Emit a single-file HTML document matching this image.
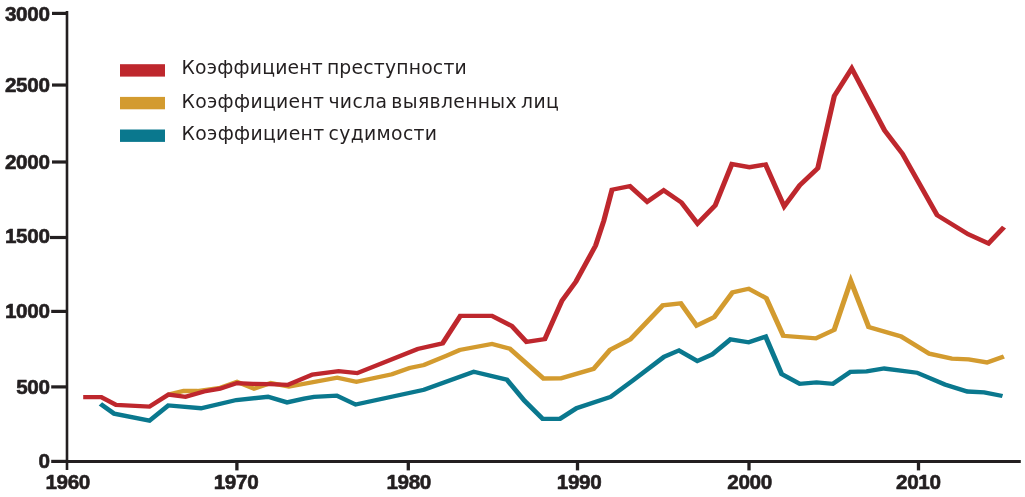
<!DOCTYPE html>
<html lang="ru"><head><meta charset="utf-8"><title>Коэффициенты</title>
<style>
html,body{margin:0;padding:0;background:#fff;}
body{width:1025px;height:497px;overflow:hidden;position:relative;}
svg{position:absolute;left:0;top:0;display:block;}
.ax{font-family:"Liberation Sans",sans-serif;font-weight:bold;font-size:20.7px;letter-spacing:-0.35px;fill:#231f20;stroke:#231f20;stroke-width:0.6px;stroke-linejoin:round;}
.lg{font-family:"DejaVu Sans","Liberation Sans",sans-serif;font-size:18.8px;fill:#231f20;letter-spacing:0.28px;word-spacing:-2.2px;}
</style></head><body>
<svg width="1025" height="497" viewBox="0 0 1025 497">
<rect width="1025" height="497" fill="#fff"/>
<g transform="scale(1.2,1)" fill="none" stroke-width="4.3" stroke-linejoin="miter" stroke-miterlimit="10" stroke-linecap="butt">
<polyline stroke="#0a788e" points="83.67,403.8 95.17,413.7 124.50,420.7 140.25,405.4 167.50,408.2 196.92,400 223.33,396.8 239.17,402.4 253.33,398.6 261.67,396.8 280.67,395.6 296.33,404.5 353.33,389.8 394.75,371.8 422.33,379.6 437.00,400.7 452.25,418.8 466.67,418.8 480.42,408.2 508.67,397 527.92,380 553.33,356.9 565.83,350.4 581.08,361.1 593.42,354.5 608.67,339.4 623.92,342.3 638.00,336.6 651.42,374.1 666.42,383.8 680.50,382.4 694.00,383.8 708.67,371.8 722.17,371.4 736.83,368.5 764.17,372.7 787.33,384.5 806.08,391.5 820.17,392.3 835.42,396"/>
<polyline stroke="#d39b2f" points="140.42,394.6 153.00,391 164.58,391 183.67,387.8 197.50,381.9 211.67,388.7 225.67,383.1 240.83,386.6 281.00,377.6 297.00,381.8 326.67,374.3 341.25,368 353.33,365 372.25,355.6 383.00,350 410.00,344 424.83,348.6 452.92,378.5 467.50,378.4 494.58,368.9 508.33,349.9 525.25,339.3 552.33,305.3 567.33,303.4 580.50,325.6 595.17,317.2 610.42,292.3 623.92,288.7 638.58,298.2 652.75,335.8 679.92,338.3 695.17,329.9 709.00,281 723.92,327 750.92,336.4 774.42,353.7 793.17,358.6 807.25,359.3 822.50,362.4 836.58,356.5"/>
<polyline stroke="#be272d" points="69.33,397.2 84.42,397.2 96.67,404.8 124.50,406.6 140.42,394.6 154.58,396.9 170.00,391.5 183.33,388.7 197.50,383.1 211.00,383.8 225.00,384.2 239.75,384.9 260.33,374.6 282.17,371.2 297.67,373.1 348.00,349 368.83,343.3 383.58,315.9 410.00,315.9 426.42,326 438.75,341.8 454.00,339.2 468.33,300.6 480.00,281.5 496.33,245.6 503.17,220.7 510.00,189.7 524.92,186.2 539.33,201.7 553.08,190.4 567.75,202.4 581.25,223.5 596.00,205.4 609.92,164.1 624.50,167.2 637.92,164.5 653.50,206.4 666.42,185.3 681.50,168.2 695.25,96 709.79,68.5 737.17,130.4 752.00,153.7 780.92,215.2 806.75,234.2 823.75,243.4 836.67,227.2"/>
</g>
<g stroke="#231f20" fill="none">
<line x1="67" y1="11" x2="67" y2="470" stroke-width="2.6"/>
<line x1="65.5" y1="461.4" x2="1020.8" y2="461.4" stroke-width="3"/>
<line x1="52" y1="13.4" x2="66.8" y2="13.4" stroke-width="3.2"/>
<line x1="52" y1="85.05" x2="66.8" y2="85.05" stroke-width="3.2"/>
<line x1="52" y1="162" x2="66.8" y2="162" stroke-width="3.2"/>
<line x1="50" y1="237.5" x2="66.8" y2="237.5" stroke-width="3.2"/>
<line x1="51.2" y1="311.4" x2="66.8" y2="311.4" stroke-width="3.2"/>
<line x1="51.2" y1="386.9" x2="66.8" y2="386.9" stroke-width="3.2"/>
<line x1="51.2" y1="461.4" x2="66.8" y2="461.4" stroke-width="3.2"/>
<line x1="236.9" y1="461" x2="236.9" y2="470.4" stroke-width="3.3"/>
<line x1="408.3" y1="461" x2="408.3" y2="470.4" stroke-width="3.3"/>
<line x1="577.5" y1="461" x2="577.5" y2="470.4" stroke-width="3.3"/>
<line x1="749" y1="461" x2="749" y2="470.4" stroke-width="3.3"/>
<line x1="918.5" y1="461" x2="918.5" y2="470.4" stroke-width="3.3"/>
</g>
<g class="ax" text-anchor="end">
<text x="49.6" y="21.1">3000</text>
<text x="49.6" y="92.4">2500</text>
<text x="49.6" y="169.1">2000</text>
<text x="49.6" y="243.4">1500</text>
<text x="49.6" y="318.2">1000</text>
<text x="49.6" y="394.2">500</text>
<text x="49.6" y="468.2">0</text>
</g><g class="ax" text-anchor="middle">
<text x="67.7" y="489.2">1960</text>
<text x="236.0" y="489.2">1970</text>
<text x="408.7" y="489.2">1980</text>
<text x="579.1" y="489.2">1990</text>
<text x="749.6" y="489.2">2000</text>
<text x="918.3" y="489.2">2010</text>
</g>
<rect x="120" y="64.2" width="45" height="12.4" fill="#be272d"/>
<rect x="120" y="96.9" width="45" height="12.4" fill="#d39b2f"/>
<rect x="120" y="129.5" width="45" height="12.4" fill="#0a788e"/>
<g class="lg">
<text x="181.5" y="74.3" style="letter-spacing:0.2px">Коэффициент преступности</text>
<text x="181.5" y="107.8" style="letter-spacing:0.33px">Коэффициент числа выявленных лиц</text>
<text x="181.5" y="140.3" style="letter-spacing:0.34px">Коэффициент судимости</text>
</g></svg></body></html>
